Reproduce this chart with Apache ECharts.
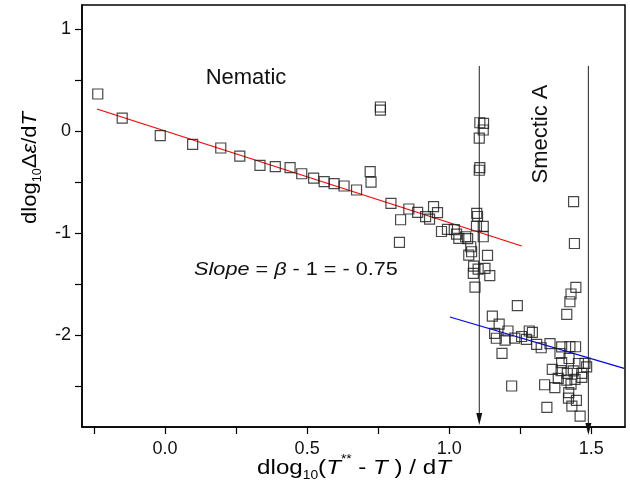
<!DOCTYPE html>
<html><head><meta charset="utf-8">
<script src="https://cdn.jsdelivr.net/npm/echarts@6/dist/echarts.min.js"></script>
<style>html,body{margin:0;padding:0;background:#fff}#c{width:630px;height:497px}</style>
</head><body><div id="c"></div>
<script>
// Nematic-phase data points [x, y]
const nematicPoints = [
[-0.237,0.362],[-0.151,0.127],[-0.017,-0.046],[0.097,-0.130],[0.196,-0.166],[0.263,-0.245],
[0.334,-0.336],[0.388,-0.349],[0.440,-0.359],[0.481,-0.418],[0.523,-0.460],[0.560,-0.496],
[0.595,-0.515],[0.630,-0.538],[0.674,-0.577],[0.722,-0.398],[0.725,-0.499],[0.758,0.235],
[0.758,0.205],[0.795,-0.707],[0.829,-0.868],[0.825,-1.089],[0.858,-0.763],[0.889,-0.795],
[0.917,-0.838],[0.931,-0.861],[0.945,-0.740],[0.959,-0.799],[0.973,-0.983],[0.994,-0.962],
[1.018,-0.964],[1.026,-1.008],[1.034,-1.050],[1.058,-1.034],[1.065,-1.052],[1.076,-1.132],
[1.069,-1.213],[1.079,-1.181],[1.097,-0.805],[1.100,-0.836],[1.096,-0.929],[1.120,-0.932],
[1.120,-1.034],[1.135,-1.216],[1.086,-1.321],[1.085,-1.392],[1.102,-1.350],[1.126,-1.343],
[1.143,-1.414],[1.091,-1.526],[1.108,0.081],[1.121,0.075],[1.120,0.010],[1.106,-0.070],
[1.108,-0.359],[1.106,-0.384]
];
// Smectic-A-phase data points [x, y]
const smecticPoints = [
[1.240,-1.707],[1.438,-0.690],[1.441,-1.100],[1.446,-1.529],[1.429,-1.594],[1.425,-1.670],
[1.414,-1.793],[1.152,-1.810],[1.176,-1.888],[1.160,-1.979],[1.166,-2.027],[1.207,-1.956],
[1.197,-2.046],[1.231,-2.025],[1.255,-2.010],[1.282,-1.956],[1.293,-1.969],[1.272,-2.038],
[1.308,-2.087],[1.324,-2.120],[1.355,-2.079],[1.186,-2.175],[1.396,-2.111],[1.425,-2.108],
[1.445,-2.110],[1.390,-2.176],[1.422,-2.225],[1.396,-2.266],[1.455,-2.274],[1.478,-2.272],
[1.484,-2.306],[1.363,-2.331],[1.394,-2.343],[1.437,-2.346],[1.467,-2.370],[1.416,-2.370],
[1.384,-2.419],[1.414,-2.436],[1.443,-2.429],[1.467,-2.409],[1.429,-2.475],[1.336,-2.482],
[1.372,-2.509],[1.220,-2.494],[1.421,-2.558],[1.420,-2.612],[1.448,-2.634],[1.432,-2.690],
[1.344,-2.703],[1.461,-2.788]
];
// Linear fits
const nematicFit = [[-0.240,0.215],[1.255,-1.125]];
const smecticFit = [[1.0025,-1.819],[1.616,-2.321]];
// Transition markers (vertical arrows)
const transitionX = [1.106, 1.490];
const arrowTop = [0.636, 0.636];
const arrowEnd = [-2.817, -2.915];
// Axis ticks
const xLabelValues = [0, 0.5, 1.0, 1.5];
const xMinorValues = [-0.25, 0.25, 0.75, 1.25];
const yLabelValues = [-2, -1, 0, 1];
const yMinorValues = [-2.5, -1.5, -0.5, 0.5];
const xRange = [-0.2925, 1.619];
const yRange = [-2.895, 1.2325];

const FONT = "'Liberation Sans', Arial, sans-serif";
const chart = echarts.init(document.getElementById('c'), null, {renderer: 'canvas'});

const arrowSeries = transitionX.map((x, i) => ({
  type: 'line',
  clip: false,
  silent: true,
  z: 1,
  lineStyle: {color: '#222', width: 1},
  itemStyle: {color: '#111'},
  showAllSymbol: true,
  data: [
    {value: [x, arrowTop[i]], symbol: 'none'},
    {value: [x, arrowEnd[i]], symbol: 'triangle', symbolSize: [6, 12], symbolRotate: 180}
  ]
}));

const textRich = {
  n: {fontSize: 21, fontFamily: FONT, color: '#111', lineHeight: 28},
  i: {fontSize: 21, fontFamily: FONT, color: '#111', fontStyle: 'italic', lineHeight: 28},
  sub: {fontSize: 12, fontFamily: FONT, color: '#111', lineHeight: 12, verticalAlign: 'bottom'},
  sup: {fontSize: 12, fontFamily: FONT, color: '#111', lineHeight: 12, verticalAlign: 'top'}
};

chart.setOption({
  animation: false,
  backgroundColor: '#fff',
  grid: {left: 82, right: 5, top: 5, bottom: 70, show: true, borderColor: '#000', borderWidth: 1.5, backgroundColor: 'transparent'},
  xAxis: {
    type: 'value', min: xRange[0], max: xRange[1],
    axisLine: {onZero: false, lineStyle: {color: '#000', width: 1.5}},
    axisTick: {show: true, inside: false, length: 7, customValues: xLabelValues.concat(xMinorValues), lineStyle: {color: '#000', width: 1.2}},
    axisLabel: {customValues: xLabelValues, formatter: v => Number(v).toFixed(1), fontSize: 18, fontFamily: FONT, color: '#111', margin: 13},
    splitLine: {show: false}
  },
  yAxis: {
    type: 'value', min: yRange[0], max: yRange[1],
    axisLine: {onZero: false, lineStyle: {color: '#000', width: 1.5}},
    axisTick: {show: true, inside: false, length: 7, customValues: yLabelValues.concat(yMinorValues), lineStyle: {color: '#000', width: 1.2}},
    axisLabel: {customValues: yLabelValues, formatter: v => String(Math.round(v)), fontSize: 18, fontFamily: FONT, color: '#111', margin: 11},
    splitLine: {show: false}
  },
  series: [
    {type: 'line', data: nematicFit, symbol: 'none', silent: true, z: 2, lineStyle: {color: '#ff0000', width: 1.2}},
    {type: 'line', data: smecticFit, symbol: 'none', silent: true, z: 2, lineStyle: {color: '#0000ff', width: 1.2}},
    ...arrowSeries,
    {type: 'scatter', data: nematicPoints, symbol: 'rect', symbolSize: 10, z: 3,
     itemStyle: {color: 'rgba(255,255,255,0)', borderColor: '#1a1a1a', borderWidth: 1.2}},
    {type: 'scatter', data: smecticPoints, symbol: 'rect', symbolSize: 10, z: 3,
     itemStyle: {color: 'rgba(255,255,255,0)', borderColor: '#1a1a1a', borderWidth: 1.2}}
  ],
  graphic: [
    {type: 'text', x: 246, y: 78, style: {text: 'Nematic', fontSize: 22, fontFamily: FONT, fill: '#111', align: 'center', verticalAlign: 'middle'}},
    {type: 'text', x: 541, y: 134, rotation: Math.PI / 2, style: {text: 'Smectic A', fontSize: 22, fontFamily: FONT, fill: '#111', align: 'center', verticalAlign: 'middle'}},
    {type: 'text', x: 296, y: 270, scaleX: 1.14, style: {
      text: '{i|Slope}{n| = }{i|β}{n| - 1 = - 0.75}', align: 'center', verticalAlign: 'middle',
      rich: {
        n: {fontSize: 19, fontFamily: FONT, fill: '#111', color: '#111'},
        i: {fontSize: 19, fontFamily: FONT, fill: '#111', color: '#111', fontStyle: 'italic'}
      }}},
    {type: 'text', x: 354, y: 468, scaleX: 1.15, style: {
      text: '{n|dlog}{sub|10}{n|(}{i|T}{sup|**}{n| - }{i|T}{n| ) / d}{i|T}', align: 'center', verticalAlign: 'middle', rich: textRich}},
    {type: 'text', x: 30, y: 168, rotation: Math.PI / 2, scaleX: 1.05, style: {
      text: '{n|dlog}{sub|10}{n|Δ}{i|ε}{n|/d}{i|T}', align: 'center', verticalAlign: 'middle', rich: textRich}}
  ]
});
</script>
</body></html>
